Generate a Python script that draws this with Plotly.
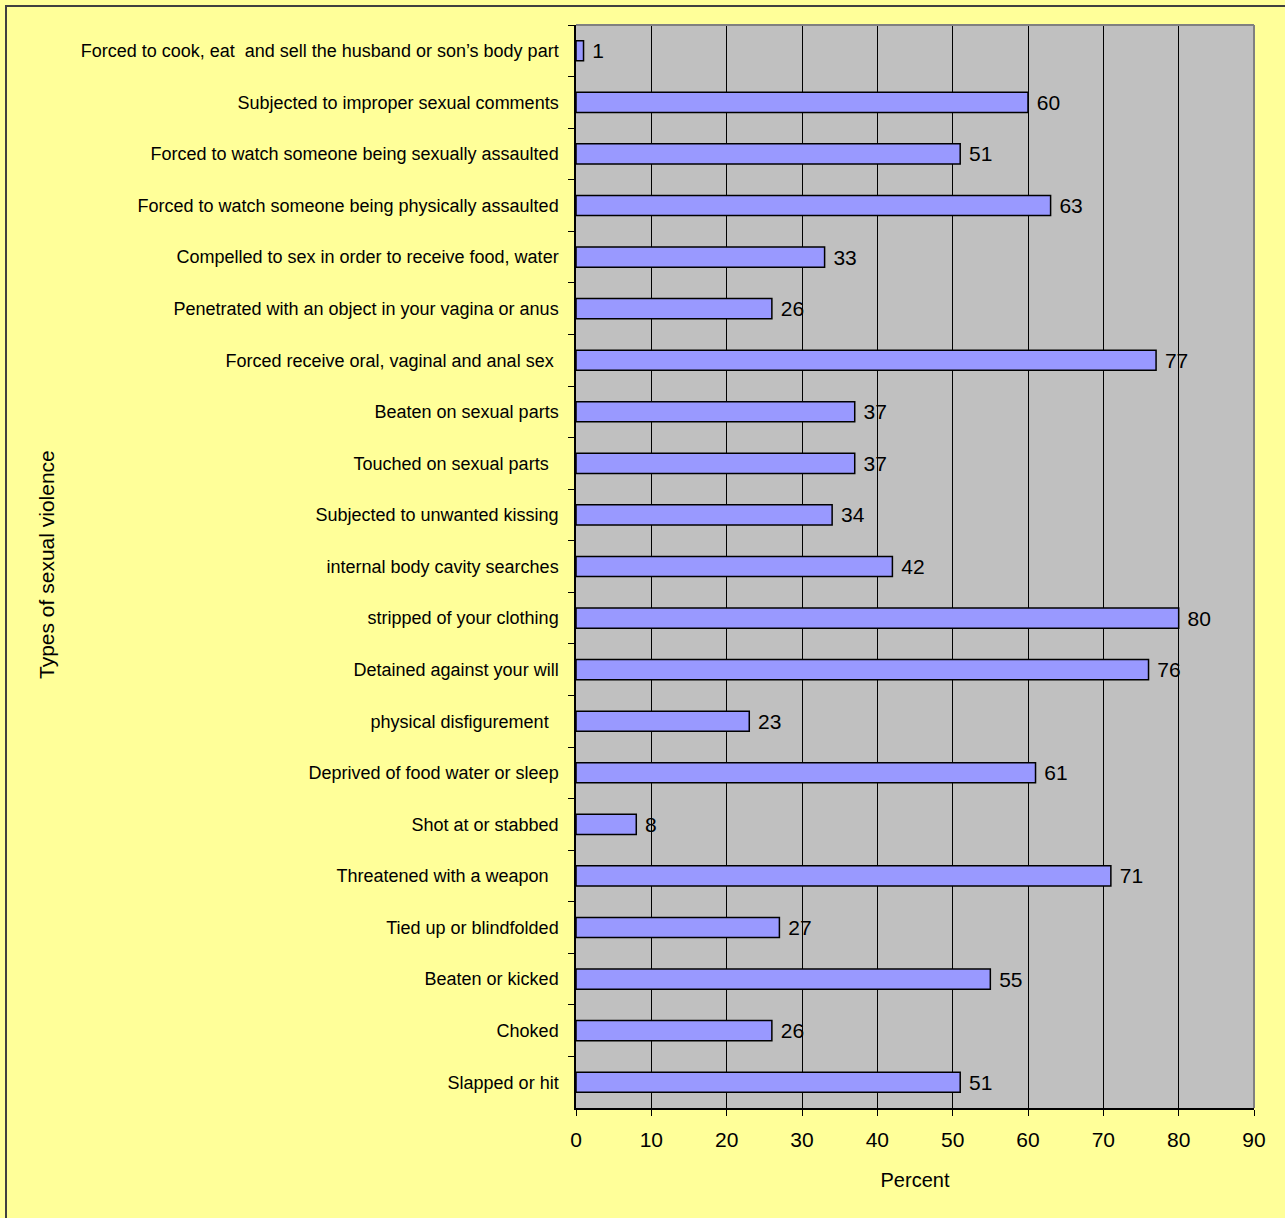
import plotly.graph_objects as go

# Types of sexual violence, listed top to bottom
categories = [
    "Forced to cook, eat\u00a0 and sell the husband or son\u2019s body part",
    "Subjected to improper sexual comments",
    "Forced to watch someone being sexually assaulted",
    "Forced to watch someone being physically assaulted",
    "Compelled to sex in order to receive food, water",
    "Penetrated with an object in your vagina or anus",
    "Forced receive oral, vaginal and anal sex\u00a0",
    "Beaten on sexual parts",
    "Touched on sexual parts\u00a0\u00a0",
    "Subjected to unwanted kissing",
    "internal body cavity searches",
    "stripped of your clothing",
    "Detained against your will",
    "physical disfigurement\u00a0\u00a0",
    "Deprived of food water or sleep",
    "Shot at or stabbed",
    "Threatened with a weapon\u00a0\u00a0",
    "Tied up or blindfolded",
    "Beaten or kicked",
    "Choked",
    "Slapped or hit",
]
percent = [1, 60, 51, 63, 33, 26, 77, 37, 37, 34, 42, 80, 76, 23, 61, 8, 71, 27, 55, 26, 51]
x_ticks = [0, 10, 20, 30, 40, 50, 60, 70, 80, 90]

W, H = 1285, 1218
L, R, T, B = 576, 31, 25, 110
pw, ph = W - L - R, H - T - B

SANS = "Liberation Sans, Arial, sans-serif"

fig = go.Figure(
    go.Bar(
        y=categories,
        x=percent,
        orientation="h",
        marker=dict(color="#9999FF", line=dict(color="#000000", width=1.5)),
        text=["\u00a0" + str(v) for v in percent],
        textposition="outside",
        cliponaxis=False,
        textfont=dict(family=SANS, size=21, color="#000000"),
    )
)

fig.update_layout(
    width=W,
    height=H,
    margin=dict(l=L, r=R, t=T, b=B),
    paper_bgcolor="#FFFF99",
    plot_bgcolor="#C0C0C0",
    bargap=0.61,
    showlegend=False,
    font=dict(family=SANS, size=20, color="#000000"),
    uniformtext=dict(minsize=21, mode="show"),
)

fig.update_xaxes(
    range=[0, 90],
    tickvals=x_ticks,
    ticktext=[str(v) for v in x_ticks],
    showgrid=True,
    gridcolor="#000000",
    gridwidth=1,
    zeroline=False,
    showline=True,
    linecolor="#000000",
    linewidth=1.5,
    ticks="outside",
    ticklen=6,
    tickcolor="#000000",
    ticklabelstandoff=6,
    tickfont=dict(size=21),
    title=dict(text="Percent", font=dict(size=20), standoff=23),
)

fig.update_yaxes(
    autorange="reversed",
    tickson="boundaries",
    showgrid=False,
    showline=True,
    linecolor="#000000",
    linewidth=1.5,
    ticks="outside",
    ticklen=6,
    tickcolor="#000000",
    ticklabelstandoff=12,
    tickfont=dict(family="Liberation Sans Narrow, Arial Narrow, " + SANS, size=18),
)

# vertical axis title, placed near the left edge of the chart
fig.add_annotation(
    text="Types of sexual violence",
    xref="paper", yref="paper",
    x=(46 - L) / pw, y=(T + ph - 565) / ph,
    textangle=-90, showarrow=False,
    xanchor="center", yanchor="middle",
    font=dict(family=SANS, size=21, color="#000000"),
)

# grey frame on top and right of the plot area
fig.add_shape(type="line", xref="paper", yref="paper", x0=0, x1=1, y0=1, y1=1,
              line=dict(color="#808080", width=2))
fig.add_shape(type="line", xref="paper", yref="paper", x0=1, x1=1, y0=0, y1=1,
              line=dict(color="#808080", width=2))

# dark outer border around the chart area
fig.add_shape(type="rect", xref="paper", yref="paper",
              x0=(6 - L) / pw, x1=(W + 20 - L) / pw,
              y0=(T + ph - (H + 20)) / ph, y1=(T + ph - 6) / ph,
              line=dict(color="#404040", width=2), fillcolor="rgba(0,0,0,0)")

fig.write_html("out.html")
